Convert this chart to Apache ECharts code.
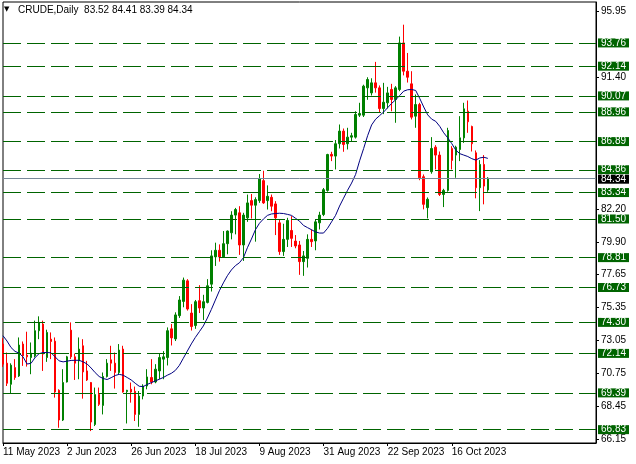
<!DOCTYPE html>
<html>
<head>
<meta charset="utf-8">
<script src="https://cdn.jsdelivr.net/npm/echarts@6/dist/echarts.min.js"></script>
<style>html,body{margin:0;padding:0;background:#fff;}#c{width:636px;height:464px;}</style>
</head>
<body>
<div id="c"></div>
<script>
// ---- data ----
const symbolName = 'CRUDE,Daily';
const xTickLabels = ['11 May 2023','2 Jun 2023','26 Jun 2023','18 Jul 2023','9 Aug 2023','31 Aug 2023','22 Sep 2023','16 Oct 2023'];
const yTickLabels = [95.95, 91.40, 82.20, 79.90, 77.65, 75.35, 73.05, 70.75, 68.45, 66.15];
const levels = [93.76, 92.14, 90.07, 88.96, 86.89, 84.86, 83.34, 81.50, 78.81, 76.73, 74.30, 72.14, 69.39, 66.83];
const bidPrice = 84.34;

const opens = [72.79,71.46,69.99,71.15,70.57,72.79,72.02,71.85,71.97,73.72,
74.18,71.85,73.13,72.99,69.57,67.50,70.15,73.76,71.90,71.62,
72.67,70.92,70.11,67.19,69.29,68.52,70.53,71.69,71.46,70.81,
72.44,69.48,69.64,69.50,67.89,69.17,69.87,70.46,70.15,70.92,
71.74,71.85,73.85,73.15,74.77,75.76,77.19,74.95,74.08,75.81,
75.30,75.69,76.96,78.86,79.32,78.86,79.78,80.54,81.77,81.93,
79.69,81.58,82.78,82.46,82.78,84.17,82.78,83.01,82.55,81.23,
79.23,80.08,80.70,79.96,79.69,78.53,78.76,80.08,79.97,81.23,
81.81,83.49,86.00,85.88,86.74,87.62,86.74,87.20,87.20,88.73,
88.73,90.63,90.28,90.98,90.63,89.19,89.59,90.52,89.82,90.52,
93.76,91.79,90.91,88.66,89.47,84.44,82.29,84.79,86.50,85.95,
83.21,83.49,86.41,85.95,86.34,87.15,89.01,87.94,86.11,83.68,
85.30,83.52];
const highs = [73.20,72.20,71.45,71.74,73.25,72.97,73.65,72.90,74.42,74.72,
74.42,73.79,73.60,73.25,69.64,71.04,71.97,74.30,72.13,73.25,
73.13,71.62,70.15,69.76,69.76,70.81,71.74,72.67,72.20,72.79,
72.67,69.60,70.11,69.83,69.52,69.99,71.04,71.74,71.39,72.13,
72.30,73.95,74.19,75.00,76.13,77.42,77.31,75.57,75.86,76.89,
76.22,77.31,79.32,79.85,79.73,80.66,80.70,82.04,82.27,82.39,
81.93,83.20,83.24,83.01,84.63,84.86,83.84,83.20,82.74,81.46,
81.17,81.58,81.70,80.38,79.97,79.27,80.43,80.77,81.46,82.00,
83.66,86.04,86.18,87.00,88.08,87.80,87.85,87.50,89.00,89.59,
90.85,91.37,91.30,92.44,90.80,90.98,90.70,90.91,90.75,94.20,
95.03,93.06,91.79,90.17,89.59,84.60,83.00,87.20,86.64,86.20,
83.60,87.85,86.57,86.60,88.66,89.59,89.75,88.00,86.27,85.60,
85.95,84.41];
const lows = [71.20,69.87,69.36,70.30,70.50,71.27,71.22,70.69,71.85,73.13,
70.92,71.55,71.74,69.06,66.96,67.43,70.11,71.74,70.29,70.34,
68.99,70.22,66.73,67.08,68.48,67.89,70.46,70.92,69.69,70.69,
69.41,67.26,68.71,67.43,67.03,68.94,69.64,69.99,70.06,70.34,
70.34,71.30,72.69,73.00,74.61,75.35,75.12,73.73,73.85,74.95,
74.47,75.62,76.45,78.23,78.53,78.81,79.04,80.08,80.43,79.00,
78.58,81.30,81.53,79.92,82.62,82.55,82.16,82.04,80.38,79.00,
78.93,79.55,79.55,79.46,77.61,77.54,78.12,79.55,79.32,80.77,
81.70,83.40,85.53,84.95,86.41,86.18,86.34,86.90,87.10,88.60,
88.60,89.80,90.10,90.30,88.90,88.80,89.20,89.00,88.20,90.40,
91.50,91.00,88.43,87.85,84.20,82.17,81.54,84.65,84.95,83.10,
82.33,83.40,84.95,84.37,85.53,86.80,87.50,86.20,82.94,82.05,
82.52,83.39];
const closes = [71.39,70.06,71.32,70.46,72.72,71.97,71.90,72.16,73.72,74.30,
72.09,73.60,72.97,69.45,67.50,70.11,71.90,71.90,71.46,72.44,
70.85,70.29,67.36,69.27,68.59,70.53,71.46,71.46,70.81,72.37,
69.45,69.57,69.45,67.89,69.17,69.87,70.50,70.15,71.04,71.85,
71.90,73.72,73.22,74.82,75.86,77.24,75.23,74.01,75.74,75.30,
75.74,76.85,78.93,79.32,78.86,79.78,80.66,81.77,82.16,79.69,
81.77,82.62,82.46,82.85,84.31,82.62,83.08,82.39,81.58,79.23,
80.08,81.40,80.15,79.62,78.53,78.93,80.08,79.92,81.30,81.77,
83.54,85.99,85.88,86.74,87.62,86.69,87.20,87.30,88.78,88.85,
90.75,91.21,90.98,90.63,89.19,89.63,90.28,89.82,90.63,93.76,
91.79,91.37,88.59,89.47,84.37,82.52,82.87,86.41,85.95,83.21,
83.49,87.66,85.58,86.50,87.15,89.17,88.27,86.74,83.68,85.30,
83.79,84.34];
const maValues = [73.37,73.00,72.55,72.28,72.16,71.90,71.40,71.45,71.85,72.12,
72.20,72.20,72.18,71.90,71.62,71.55,71.60,71.65,71.66,71.66,
71.55,71.40,71.12,70.80,70.53,70.39,70.32,70.45,70.60,70.68,
70.62,70.46,70.29,70.06,69.85,69.83,69.98,70.10,70.22,70.34,
70.46,70.62,70.75,70.95,71.30,71.80,72.30,72.80,73.25,73.65,
74.05,74.60,75.20,75.85,76.50,77.05,77.55,77.95,78.25,78.45,
78.80,79.50,80.10,80.75,81.20,81.50,81.75,81.85,81.88,81.90,
81.88,81.82,81.75,81.55,81.35,81.05,80.90,80.75,80.60,80.52,
80.52,80.85,81.30,81.75,82.40,82.95,83.50,84.00,84.60,85.55,
86.40,87.30,88.05,88.45,88.70,88.95,89.25,89.55,89.80,90.10,
90.40,90.50,90.52,90.45,89.90,89.30,88.75,88.45,88.30,87.95,
87.50,87.15,86.75,86.30,86.05,85.95,85.85,85.70,85.60,85.75,
85.80,85.72];

// ---- categories: trading days (weekdays) from the first bar, plus empty space on the right ----
const totalSlots = 149;
const monthNames = ['Jan','Feb','Mar','Apr','May','Jun','Jul','Aug','Sep','Oct','Nov','Dec'];
const categories = [];
(function(){
  const d = new Date(Date.UTC(2023, 4, 11));
  while (categories.length < totalSlots) {
    const wd = d.getUTCDay();
    if (wd !== 0 && wd !== 6) categories.push(d.getUTCDate() + ' ' + monthNames[d.getUTCMonth()] + ' ' + d.getUTCFullYear());
    d.setUTCDate(d.getUTCDate() + 1);
  }
})();

const candleData = opens.map((o, i) => [o, closes[i], lows[i], highs[i]]);
const FONT = '"Liberation Sans", Arial, sans-serif';
const last = opens.length - 1;
const headerText = symbolName + '  ' + opens[last].toFixed(2) + ' ' + highs[last].toFixed(2) + ' ' + lows[last].toFixed(2) + ' ' + closes[last].toFixed(2);

const chart = echarts.init(document.getElementById('c'), null, {renderer: 'canvas'});
const levelLabel = {
  show: true, position: 'end', distance: 2,
  formatter: p => Number(p.value).toFixed(2),
  backgroundColor: '#006400', color: '#ffffff',
  fontFamily: FONT, fontSize: 10, lineHeight: 9, padding: [0, 3, 0, 3]
};
// lines close to the bid line get their boxes nudged apart so both stay readable
const levelItems = levels.map(v => {
  const item = {yAxis: v};
  if (v > bidPrice && v - bidPrice < 0.7) item.label = Object.assign({}, levelLabel, {offset: [0, -1]});
  return item;
});
const isTickLabel = (i, v) => xTickLabels.includes(v);
chart.setOption({
  animation: false,
  backgroundColor: '#ffffff',
  graphic: [
    {type: 'text', left: 4, top: 6, style: {text: '▼', fontSize: 7, fill: '#000', fontFamily: 'DejaVu Sans'}},
    {type: 'text', left: 18, top: 5, style: {text: headerText, fontSize: 10, fill: '#000', fontFamily: FONT}}
  ],
  grid: {left: 3, right: 40, top: 2, bottom: 21, show: true, borderColor: '#000', borderWidth: 1, backgroundColor: '#fff'},
  xAxis: {
    type: 'category', data: categories, boundaryGap: false,
    axisLine: {show: true, lineStyle: {color: '#000', width: 1}},
    axisTick: {show: true, length: 3, lineStyle: {color: '#000'}, interval: isTickLabel},
    axisLabel: {
      interval: isTickLabel, align: 'left', margin: 4,
      color: '#000', fontSize: 10, fontFamily: FONT
    },
    splitLine: {show: false}
  },
  yAxis: {
    type: 'value', position: 'right', min: 65.90, max: 96.61, scale: true,
    axisLine: {show: true, lineStyle: {color: '#000', width: 1}},
    axisTick: {show: true, length: 3, lineStyle: {color: '#000'}, customValues: yTickLabels},
    axisLabel: {color: '#000', fontSize: 10, fontFamily: FONT, margin: 5, customValues: yTickLabels, formatter: v => Number(v).toFixed(2)},
    splitLine: {show: false}
  },
  series: [
    {
      type: 'candlestick', data: candleData, barWidth: 2, clip: true,
      itemStyle: {color: '#008000', color0: '#ff0000', borderColor: '#008000', borderColor0: '#ff0000', borderWidth: 1},
      markLine: {
        silent: true, symbol: ['none', 'none'], animation: false,
        lineStyle: {color: '#006400', type: [18, 6], width: 1},
        label: levelLabel,
        emphasis: {disabled: true},
        data: levelItems.concat([{
          yAxis: bidPrice,
          lineStyle: {color: '#778899', type: 'solid', width: 1},
          label: Object.assign({}, levelLabel, {backgroundColor: '#000000', color: '#ffffff', offset: [0, 1]})
        }])
      }
    },
    {
      type: 'line', data: maValues, showSymbol: false, symbol: 'none', smooth: false,
      lineStyle: {color: '#000080', width: 1}, z: 3, silent: true
    }
  ]
});
</script>
</body>
</html>
